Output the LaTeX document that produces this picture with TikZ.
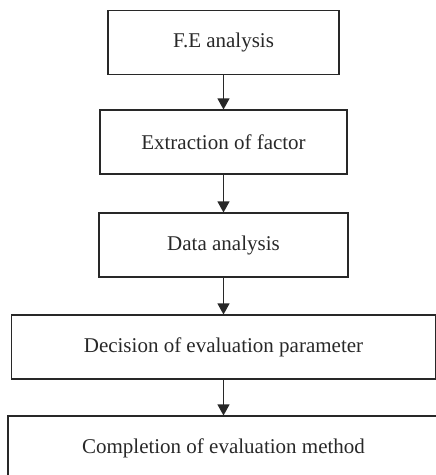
\documentclass[tikz,border=0pt]{standalone}
\usepackage{fontspec}
\setmainfont{Liberation Serif}
\usetikzlibrary{arrows.meta}
\definecolor{inkgray}{RGB}{40,40,40}

\tikzset{
  stepbox/.style={draw=inkgray, line width=1.1pt, text=inkgray, minimum height=64pt,
    inner sep=0pt, font=\fontsize{21}{24}\selectfont},
  flow/.style={draw=inkgray, line width=1.1pt, -{Triangle[width=12pt,length=11pt]}}
}

\begin{document}
\begin{tikzpicture}[x=1pt,y=-1pt]
\useasboundingbox (0,0) rectangle (436,475);
\clip (0,0) rectangle (436,475);

\node[stepbox, minimum width=231pt] (fe) at (223.5,42.3) {F.E analysis};
\node[stepbox, minimum width=247pt] (extract) at (223.5,142) {Extraction of factor};
\node[stepbox, minimum width=249pt] (data) at (223.5,245) {Data analysis};
\node[stepbox, minimum width=424pt] (decide) at (223.5,347) {Decision of evaluation parameter};
\node[stepbox, minimum width=431pt] (complete) at (223.5,448) {Completion of evaluation method};

\draw[flow] (fe) -- (extract);
\draw[flow] (extract) -- (data);
\draw[flow] (data) -- (decide);
\draw[flow] (decide) -- (complete);
\end{tikzpicture}
\end{document}
